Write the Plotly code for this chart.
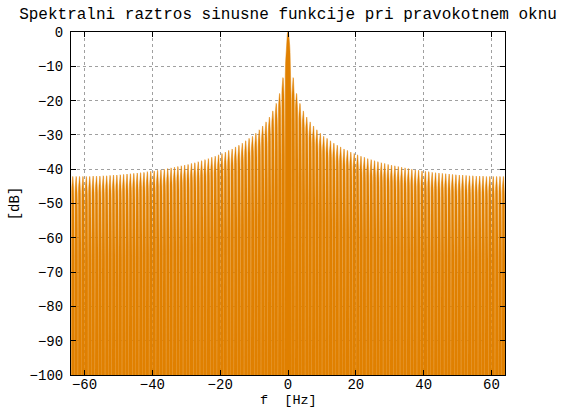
import plotly.graph_objects as go

# Peak level (dB) of each side lobe, counted outward from the main lobe.
# Lobe n spans [n, n+1] Hz on the positive side and [-n-1, -n] Hz on the negative side.
sidelobe_peak_db = [
    -13.3, -17.9, -20.8, -23.0, -24.8, -26.2, -27.4, -28.5, -29.5, -30.4,
    -31.0, -31.7, -32.4, -33.0, -33.5, -34.1, -34.5, -35.0, -35.4, -35.8,
    -36.2, -36.5, -36.9, -37.2, -37.5, -37.8, -38.1, -38.3, -38.6, -38.8,
    -39.0, -39.2, -39.4, -39.6, -39.8, -40.0, -40.2, -40.3, -40.5, -40.6,
    -40.7, -40.9, -41.0, -41.1, -41.2, -41.3, -41.4, -41.5, -41.6, -41.7,
    -41.7, -41.8, -41.9, -41.9, -42.0, -42.0, -42.0, -42.1, -42.1, -42.1,
    -42.1, -42.1, -42.1,
]

# Shape of one side lobe relative to its peak: position within the lobe (0..1) and dB offset.
lobe_pos = [0.02, 0.05, 0.10, 0.15, 0.20, 0.25, 0.30, 0.35, 0.40, 0.45, 0.50,
            0.55, 0.60, 0.65, 0.70, 0.75, 0.80, 0.85, 0.90, 0.95, 0.98]
lobe_offset_db = [-24.0, -16.1, -10.2, -6.9, -4.6, -3.0, -1.8, -1.0, -0.4, -0.1, 0.0,
                  -0.1, -0.4, -1.0, -1.8, -3.0, -4.6, -6.9, -10.2, -16.1, -24.0]

# Main lobe around 0 Hz
main_f = [-0.95, -0.9, -0.8, -0.7, -0.6, -0.5, -0.4, -0.3, -0.2, -0.1, 0.0,
          0.1, 0.2, 0.3, 0.4, 0.5, 0.6, 0.7, 0.8, 0.9, 0.95]
main_db = [-25.6, -19.2, -12.6, -8.7, -5.9, -3.9, -2.4, -1.3, -0.6, -0.1, 0.0,
           -0.1, -0.6, -1.3, -2.4, -3.9, -5.9, -8.7, -12.6, -19.2, -25.6]

null_db = -140.0  # depth of the spectral zeros (below the visible range)

x_ticks = [-60, -40, -20, 0, 20, 40, 60]
y_ticks = [0, -10, -20, -30, -40, -50, -60, -70, -80, -90, -100]

# Assemble the spectrum from left (-64 Hz) to right (+64 Hz)
freq, level = [], []
n_lobes = len(sidelobe_peak_db)
for n in range(n_lobes, 0, -1):
    lo = -n - 1
    peak = sidelobe_peak_db[n - 1]
    freq.append(lo)
    level.append(null_db)
    for p, o in zip(lobe_pos, lobe_offset_db):
        freq.append(lo + p)
        level.append(peak + o)
freq.append(-1)
level.append(null_db)
freq.extend(main_f)
level.extend(main_db)
for n in range(1, n_lobes + 1):
    lo = n
    peak = sidelobe_peak_db[n - 1]
    freq.append(lo)
    level.append(null_db)
    for p, o in zip(lobe_pos, lobe_offset_db):
        freq.append(lo + p)
        level.append(peak + o)
freq.append(n_lobes + 1)
level.append(null_db)

orange = "rgb(224,128,0)"
mono = "Liberation Mono, Courier New, monospace"

fig = go.Figure()
# baseline of the area plot
fig.add_trace(go.Scatter(
    x=[freq[0], freq[-1]], y=[null_db, null_db], mode="lines",
    line=dict(color=orange, width=0), hoverinfo="skip",
))
# spectrum drawn as a filled area down to the baseline
fig.add_trace(go.Scatter(
    x=freq, y=level, mode="lines",
    line=dict(color=orange, width=0.5),
    fill="tonexty", fillcolor=orange,
    hoverinfo="skip",
))

axis_common = dict(
    showline=True, linecolor="black", linewidth=1, mirror="ticks",
    ticks="inside", ticklen=5, tickcolor="black", tickwidth=1,
    showgrid=True, gridcolor="rgb(160,160,160)", griddash="dot", gridwidth=1,
    zeroline=False, automargin=False,
    tickfont=dict(family=mono, size=14, color="black"),
)

fig.update_layout(
    width=561, height=409,
    margin=dict(l=71, r=56, t=32, b=34),
    paper_bgcolor="white", plot_bgcolor="white",
    showlegend=False,
    title=dict(
        text="Spektralni raztros sinusne funkcije pri pravokotnem oknu",
        font=dict(family=mono, size=16, color="black"),
        x=0.5, xref="paper", xanchor="center",
        y=1 - 13 / 409, yanchor="middle",
    ),
    xaxis=dict(
        range=[-64, 64], tickvals=x_ticks,
        ticklabelstandoff=-4,
        **axis_common,
    ),
    yaxis=dict(
        range=[-100, 0], tickvals=y_ticks,
        title=dict(text="[dB]", font=dict(family=mono, size=14, color="black"), standoff=6),
        ticklabelstandoff=4,
        **axis_common,
    ),
    annotations=[dict(
        text="f  [Hz]", showarrow=False,
        font=dict(family=mono, size=13.5, color="black"),
        xref="paper", x=0.5, xanchor="center",
        yref="paper", y=-34 / 343, yanchor="bottom", borderpad=0,
    )],
)

fig.write_html("out.html")
